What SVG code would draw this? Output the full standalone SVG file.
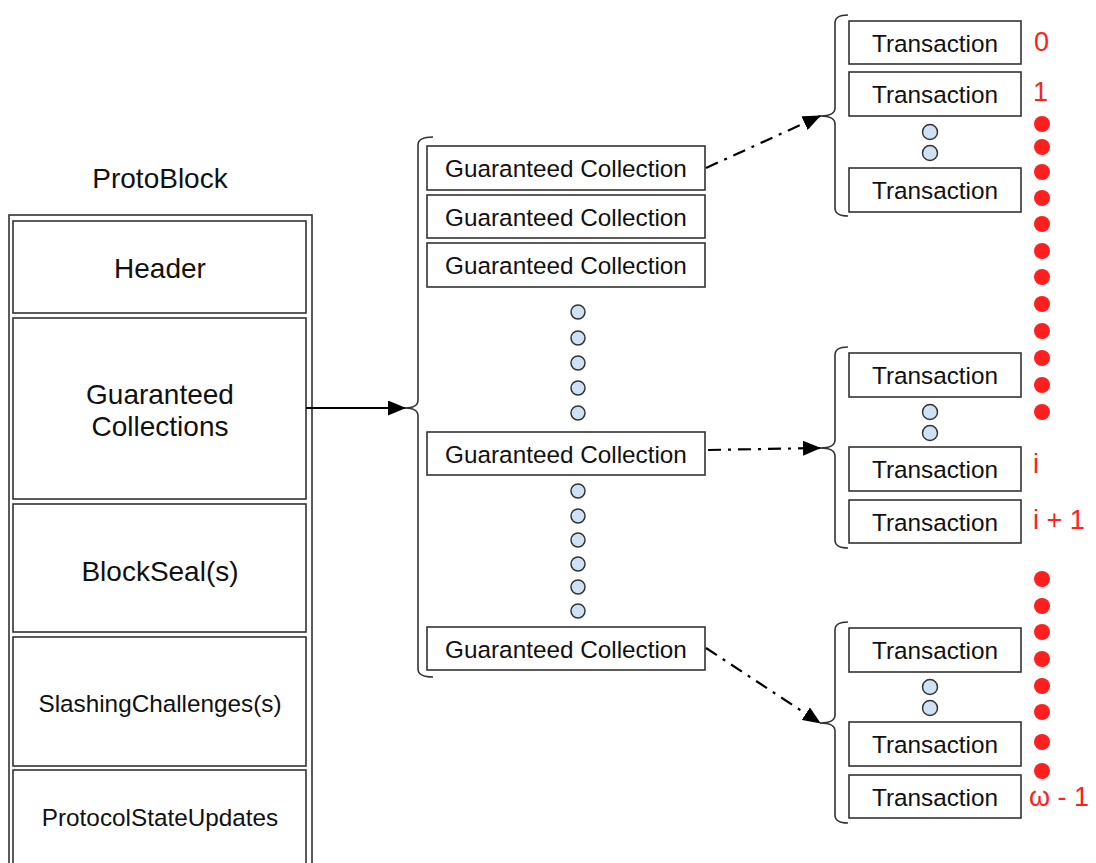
<svg xmlns="http://www.w3.org/2000/svg" width="1096" height="863" viewBox="0 0 1096 863">
<style>
  .box{fill:#fff;stroke:#333;stroke-width:1.6}
  .t{font-family:"Liberation Sans",Arial,sans-serif;fill:#111;text-anchor:middle;dominant-baseline:central}
  .big{font-size:28px}
  .mid{font-size:24.3px}
  .dot{fill:#cfe2f3;stroke:#333;stroke-width:1.5}
  .rdot{fill:#ff1f1f}
  .red{font-family:"Liberation Sans",Arial,sans-serif;fill:#ff2020;font-size:27px}
  .brace{fill:none;stroke:#333;stroke-width:1.6}
  .conn{fill:none;stroke:#000;stroke-width:2.2}
  .dd{stroke-dasharray:13 7 3 7}
</style>
<defs>
  <marker id="ah" markerUnits="userSpaceOnUse" markerWidth="19" markerHeight="15" refX="17" refY="7.5" orient="auto">
    <path d="M0,0 L18,7.5 L0,15 Z" fill="#000"/>
  </marker>
</defs>
<rect width="1096" height="863" fill="#fff"/>

<g id="protoblock">
  <text class="t big" x="160" y="178">ProtoBlock</text>
  <rect class="box" x="9" y="215" width="303" height="670"/>
</g>
<g id="header">
  <rect class="box" x="13" y="221" width="293" height="92"/>
  <text class="t big" x="160" y="268">Header</text>
</g>
<g id="guaranteed-collections">
  <rect class="box" x="13" y="318" width="293" height="181"/>
  <text class="t big" x="160" y="394">Guaranteed</text>
  <text class="t big" x="160" y="426">Collections</text>
</g>
<g id="blockseals">
  <rect class="box" x="13" y="504" width="293" height="128"/>
  <text class="t big" x="160" y="571">BlockSeal(s)</text>
</g>
<g id="slashing">
  <rect class="box" x="13" y="637" width="293" height="129"/>
  <text class="t mid" x="160" y="703">SlashingChallenges(s)</text>
</g>
<g id="protocol-state">
  <rect class="box" x="13" y="770" width="293" height="110"/>
  <text class="t mid" x="160" y="817">ProtocolStateUpdates</text>
</g>

<g id="collections">
  <path class="brace" d="M433,137 Q418,137 418,145 L418,400 Q418,408 405,408 Q418,408 418,416 L418,669 Q418,677 433,677"/>
  <g id="gc1"><rect class="box" x="427" y="146" width="278" height="44"/><text class="t mid" x="566" y="168">Guaranteed Collection</text></g>
  <g id="gc2"><rect class="box" x="427" y="195" width="278" height="43"/><text class="t mid" x="566" y="217">Guaranteed Collection</text></g>
  <g id="gc3"><rect class="box" x="427" y="243" width="278" height="44"/><text class="t mid" x="566" y="265">Guaranteed Collection</text></g>
  <circle class="dot" cx="578" cy="312" r="7"/>
  <circle class="dot" cx="578" cy="338" r="7"/>
  <circle class="dot" cx="578" cy="363" r="7"/>
  <circle class="dot" cx="578" cy="388" r="7"/>
  <circle class="dot" cx="578" cy="413" r="7"/>
  <g id="gc4"><rect class="box" x="427" y="432" width="278" height="43"/><text class="t mid" x="566" y="454">Guaranteed Collection</text></g>
  <circle class="dot" cx="578" cy="491" r="7"/>
  <circle class="dot" cx="578" cy="516" r="7"/>
  <circle class="dot" cx="578" cy="540" r="7"/>
  <circle class="dot" cx="578" cy="564" r="7"/>
  <circle class="dot" cx="578" cy="587" r="7"/>
  <circle class="dot" cx="578" cy="611" r="7"/>
  <g id="gc5"><rect class="box" x="427" y="627" width="278" height="43"/><text class="t mid" x="566" y="649">Guaranteed Collection</text></g>
</g>

<g id="tx-group-1">
  <path class="brace" d="M848,15 Q835,15 835,23 L835,108 Q835,116 820,116 Q835,116 835,124 L835,208 Q835,216 848,216"/>
  <rect class="box" x="849" y="21" width="172" height="43"/><text class="t mid" x="935" y="43">Transaction</text>
  <rect class="box" x="849" y="72" width="172" height="44"/><text class="t mid" x="935" y="94">Transaction</text>
  <circle class="dot" cx="930" cy="132" r="7.5"/>
  <circle class="dot" cx="930" cy="153" r="7.5"/>
  <rect class="box" x="849" y="168" width="172" height="44"/><text class="t mid" x="935" y="190">Transaction</text>
</g>
<g id="tx-group-2">
  <path class="brace" d="M848,347 Q835,347 835,355 L835,440 Q835,448 820,448 Q835,448 835,456 L835,540 Q835,548 848,548"/>
  <rect class="box" x="849" y="353" width="172" height="44"/><text class="t mid" x="935" y="375">Transaction</text>
  <circle class="dot" cx="930" cy="412" r="7.5"/>
  <circle class="dot" cx="930" cy="433" r="7.5"/>
  <rect class="box" x="849" y="447" width="172" height="44"/><text class="t mid" x="935" y="469">Transaction</text>
  <rect class="box" x="849" y="500" width="172" height="43"/><text class="t mid" x="935" y="522">Transaction</text>
</g>
<g id="tx-group-3">
  <path class="brace" d="M848,622 Q835,622 835,630 L835,715 Q835,723 820,723 Q835,723 835,731 L835,815 Q835,823 848,823"/>
  <rect class="box" x="849" y="628" width="172" height="44"/><text class="t mid" x="935" y="650">Transaction</text>
  <circle class="dot" cx="930" cy="687" r="7.5"/>
  <circle class="dot" cx="930" cy="708" r="7.5"/>
  <rect class="box" x="849" y="722" width="172" height="44"/><text class="t mid" x="935" y="744">Transaction</text>
  <rect class="box" x="849" y="775" width="172" height="43"/><text class="t mid" x="935" y="797">Transaction</text>
</g>

<g id="indices">
  <text class="red" x="1034" y="51">0</text>
  <text class="red" x="1033" y="101">1</text>
  <text class="red" x="1033" y="473">i</text>
  <text class="red" x="1033" y="529">i + 1</text>
  <text class="red" x="1029" y="806">ω - 1</text>
  <circle class="rdot" cx="1042" cy="124" r="8"/>
  <circle class="rdot" cx="1042" cy="147" r="8"/>
  <circle class="rdot" cx="1042" cy="172" r="8"/>
  <circle class="rdot" cx="1042" cy="198" r="8"/>
  <circle class="rdot" cx="1042" cy="224" r="8"/>
  <circle class="rdot" cx="1042" cy="251" r="8"/>
  <circle class="rdot" cx="1042" cy="277" r="8"/>
  <circle class="rdot" cx="1042" cy="304" r="8"/>
  <circle class="rdot" cx="1042" cy="331" r="8"/>
  <circle class="rdot" cx="1042" cy="358" r="8"/>
  <circle class="rdot" cx="1042" cy="385" r="8"/>
  <circle class="rdot" cx="1042" cy="412" r="8"/>
  <circle class="rdot" cx="1042" cy="579" r="8"/>
  <circle class="rdot" cx="1042" cy="606" r="8"/>
  <circle class="rdot" cx="1042" cy="632" r="8"/>
  <circle class="rdot" cx="1042" cy="659" r="8"/>
  <circle class="rdot" cx="1042" cy="686" r="8"/>
  <circle class="rdot" cx="1042" cy="712" r="8"/>
  <circle class="rdot" cx="1042" cy="742" r="8"/>
  <circle class="rdot" cx="1042" cy="771" r="8"/>
</g>

<g id="connectors">
  <line class="conn" x1="306" y1="408" x2="405" y2="408" marker-end="url(#ah)"/>
  <line class="conn dd" x1="706" y1="168" x2="820" y2="116" marker-end="url(#ah)"/>
  <line class="conn dd" x1="708" y1="450" x2="820" y2="448" marker-end="url(#ah)"/>
  <line class="conn dd" x1="706" y1="648" x2="820" y2="723" marker-end="url(#ah)"/>
</g>
</svg>
